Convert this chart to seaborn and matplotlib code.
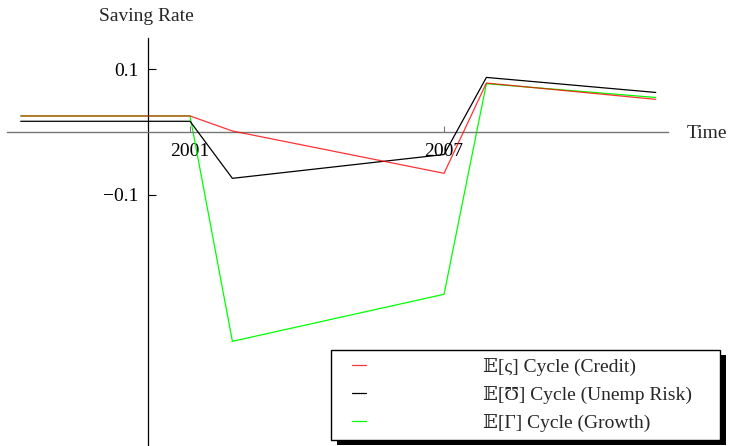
import matplotlib
matplotlib.use("Agg")
import matplotlib.pyplot as plt
from matplotlib.patches import Rectangle
from matplotlib.transforms import IdentityTransform
from matplotlib.legend_handler import HandlerLine2D
import pandas as pd
import seaborn as sns

# Saving rate paths over time for three cycle experiments
years = [1997, 2001, 2002, 2007, 2008, 2012]
credit = [0.0255, 0.0255, 0.0015, -0.066, 0.078, 0.052]
unemp = [0.017, 0.017, -0.074, -0.036, 0.087, 0.063]
growth = [0.0255, 0.0255, -0.334, -0.259, 0.077, 0.055]

series_labels = ["𝔼[ς] Cycle (Credit)", "𝔼[Ʊ] Cycle (Unemp Risk)", "𝔼[Γ] Cycle (Growth)"]
series_colors = ["#ff0000", "#000000", "#00ff00"]

x_ticks = [2001, 2007]
x_tick_labels = ["2001", "2007"]
y_ticks = [0.1, -0.1]
y_tick_labels = ["0.1", "\u22120.1"]

sns.set_theme(style="white")
plt.rcParams["font.family"] = ["Liberation Serif", "DejaVu Serif", "DejaVu Sans"]

df = pd.concat(
    [
        pd.DataFrame({"Year": years, "Rate": vals, "Series": lab})
        for vals, lab in zip([credit, unemp, growth], series_labels)
    ],
    ignore_index=True,
)

W, H = 729, 446
fig = plt.figure(figsize=(W / 100, H / 100), dpi=100)
ax = fig.add_axes([7 / W, 0, 661 / W, (H - 38.3) / H])

# draw order: growth, unemployment, credit (credit slightly translucent on top)
styles = {
    series_labels[2]: dict(zorder=2, alpha=1.0),
    series_labels[1]: dict(zorder=3, alpha=1.0),
    series_labels[0]: dict(zorder=4, alpha=0.8),
}
palette = dict(zip(series_labels, series_colors))
for lab in [series_labels[2], series_labels[1], series_labels[0]]:
    sns.lineplot(
        data=df[df["Series"] == lab], x="Year", y="Rate", color=palette[lab],
        linewidth=0.9, ax=ax, label=lab, legend=False, **styles[lab],
    )

ax.set_xlim(1996.676, 2012.29)
ax.set_ylim(-0.501, 0.1494)

for side in ["top", "right"]:
    ax.spines[side].set_visible(False)
ax.spines["left"].set_position(("data", 2000))
ax.spines["bottom"].set_position(("data", 0))
ax.spines["left"].set_color("black")
ax.spines["bottom"].set_color("#777777")
ax.spines["left"].set_linewidth(0.9)
ax.spines["bottom"].set_linewidth(1.0)

ax.set_xticks(x_ticks)
ax.set_xticklabels(x_tick_labels)
ax.set_yticks(y_ticks)
ax.set_yticklabels(y_tick_labels)
ax.tick_params(axis="x", direction="in", length=4, width=0.8, color="#777777",
               pad=8, labelsize=14, labelcolor="black", bottom=True)
ax.tick_params(axis="y", direction="in", length=6, width=0.8, color="black",
               pad=6.5, labelsize=14, labelcolor="black", left=True)
ax.set_xlabel("")
ax.set_ylabel("")
ax.grid(False)
ax.patch.set_alpha(0)

fig.text(146.5 / W, (H - 21) / H, "Saving Rate", ha="center", va="baseline", fontsize=14)
fig.text(686.5 / W, (H - 137.5) / H, "Time", ha="left", va="baseline", fontsize=14)

# legend in the lower right with a solid drop shadow
line_by_label = {l.get_label(): l for l in ax.get_lines()}
handles = [line_by_label[lab] for lab in series_labels]
leg = fig.legend(
    handles, series_labels,
    loc="lower left", bbox_to_anchor=(331 / W, (H - 440) / H, 389 / W, 91 / H),
    mode="expand", borderaxespad=0, fontsize=14, frameon=True, fancybox=False,
    framealpha=1, edgecolor="black", borderpad=0.42, labelspacing=0.5,
    handlelength=1.38, handletextpad=6.0,
    handler_map={matplotlib.lines.Line2D: HandlerLine2D(xpad=0.66)},
)
leg.get_frame().set_linewidth(1.0)
leg.set_zorder(6)

fig.canvas.draw()
bb = leg.get_frame().get_window_extent()
shadow = Rectangle((bb.x0 + 6, bb.y0 - 5), bb.width, bb.height,
                   transform=IdentityTransform(), facecolor="black",
                   edgecolor="none", zorder=5.5)
fig.add_artist(shadow)

fig.savefig("out.png", dpi=100)
